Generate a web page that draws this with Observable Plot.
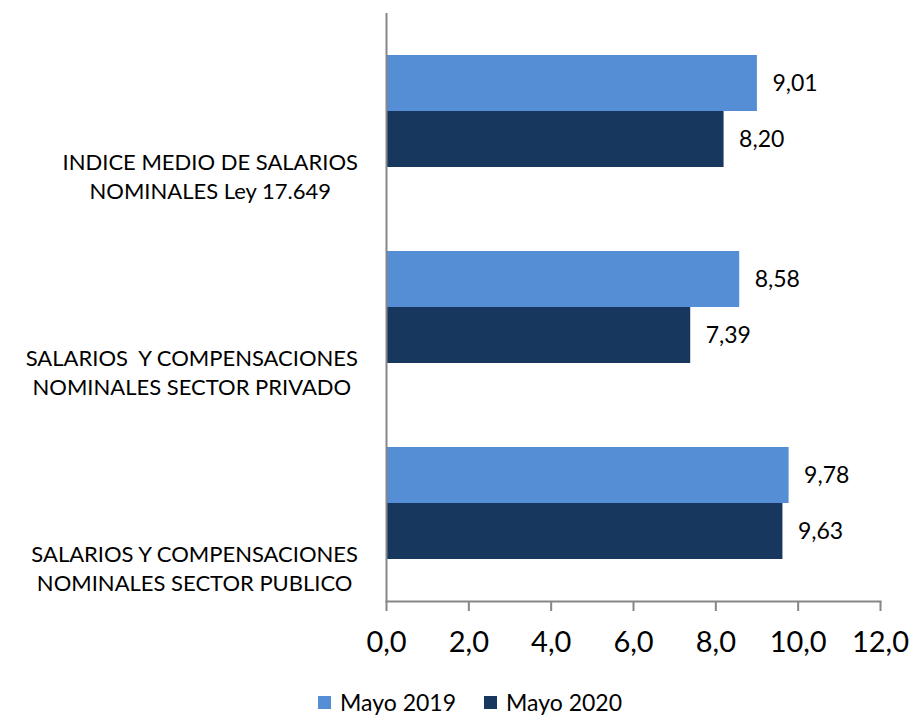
<!DOCTYPE html>
<html>
<head>
<meta charset="utf-8">
<script src="https://cdn.jsdelivr.net/npm/d3@7"></script>
<script src="https://cdn.jsdelivr.net/npm/@observablehq/plot@0.6"></script>
<style>
  html, body { margin: 0; padding: 0; background: #fff; }
  body { width: 912px; height: 715px; position: relative; overflow: hidden; font-family: Lato, "Open Sans", sans-serif; }
  #legend { position: absolute; left: 0; top: 689px; width: 912px; height: 26px; line-height: 26px; display: flex; justify-content: center; align-items: center; gap: 28px; font-size: 23px; color: #000; padding-left: 28px; box-sizing: border-box; }
  #legend .item { display: flex; align-items: center; gap: 9px; }
  #legend .sw { width: 13px; height: 13px; display: inline-block; }
</style>
</head>
<body>
<div id="chart"></div>
<div id="legend"></div>
<script>
const categories = [
  "INDICE MEDIO DE SALARIOS\nNOMINALES Ley 17.649",
  "SALARIOS  Y COMPENSACIONES\nNOMINALES SECTOR PRIVADO",
  "SALARIOS Y COMPENSACIONES\nNOMINALES SECTOR PUBLICO"
];
const series = ["Mayo 2019", "Mayo 2020"];
const values2019 = [9.01, 8.58, 9.78];
const values2020 = [8.20, 7.39, 9.63];
const xTicks = [0, 2, 4, 6, 8, 10, 12];
const colors = ["#558ED5", "#17375E"];

const data = categories.flatMap((c, i) => [
  {category: c, series: series[0], value: values2019[i]},
  {category: c, series: series[1], value: values2020[i]}
]);

const comma = (v, n) => v.toFixed(n).replace(".", ",");

const plot = Plot.plot({
  width: 912,
  height: 680,
  marginLeft: 386,
  marginRight: 32,
  marginTop: 12,
  marginBottom: 78,
  style: {fontFamily: "Lato, 'Open Sans', sans-serif", background: "#fff", color: "#000"},
  x: {domain: [0, 12], axis: null},
  fy: {domain: categories, padding: 0, axis: null},
  y: {domain: series, paddingInner: 0, paddingOuter: 0.725, axis: null},
  color: {domain: series, range: colors},
  marks: [
    Plot.barX(data, {fy: "category", y: "series", x: "value", fill: "series"}),
    Plot.text(data, {fy: "category", y: "series", x: "value", text: d => comma(d.value, 2), textAnchor: "start", dx: 15, fontSize: 23, fill: "#000"}),
    Plot.text(categories, {fy: d => d, text: d => d, frameAnchor: "left", textAnchor: "middle", dy: 64, lineHeight: 1.3, fontSize: 22, fill: "#000"}),
    Plot.ruleX([0], {stroke: "#868686", strokeWidth: 2}),
    Plot.frame({anchor: "bottom", facetAnchor: "bottom", stroke: "#868686", strokeWidth: 2}),
    Plot.axisX({ticks: xTicks, tickFormat: d => comma(d, 1), label: null, tickSize: 10, tickPadding: 20, fontSize: 29, stroke: "#868686", strokeWidth: 2, fill: "#000"})
  ]
});
document.getElementById("chart").appendChild(plot);

// center each multi-line category label on its own widest line, ending near the axis
const flat = categories.map(c => c.replace(/\n/g, ""));
const svgRect = plot.getBoundingClientRect();
plot.querySelectorAll("text").forEach(t => {
  if (!flat.includes(t.textContent)) return;
  const r = t.getBoundingClientRect();
  const right = r.right - svgRect.left;
  const shift = 358 - right;
  t.setAttribute("transform", (t.getAttribute("transform") || "") + ` translate(${shift},0)`);
});

const legend = document.getElementById("legend");
series.forEach((s, i) => {
  const item = document.createElement("div");
  item.className = "item";
  const sw = document.createElement("span");
  sw.className = "sw";
  sw.style.background = colors[i];
  const lab = document.createElement("span");
  lab.textContent = s;
  item.appendChild(sw);
  item.appendChild(lab);
  legend.appendChild(item);
});
</script>
</body>
</html>
